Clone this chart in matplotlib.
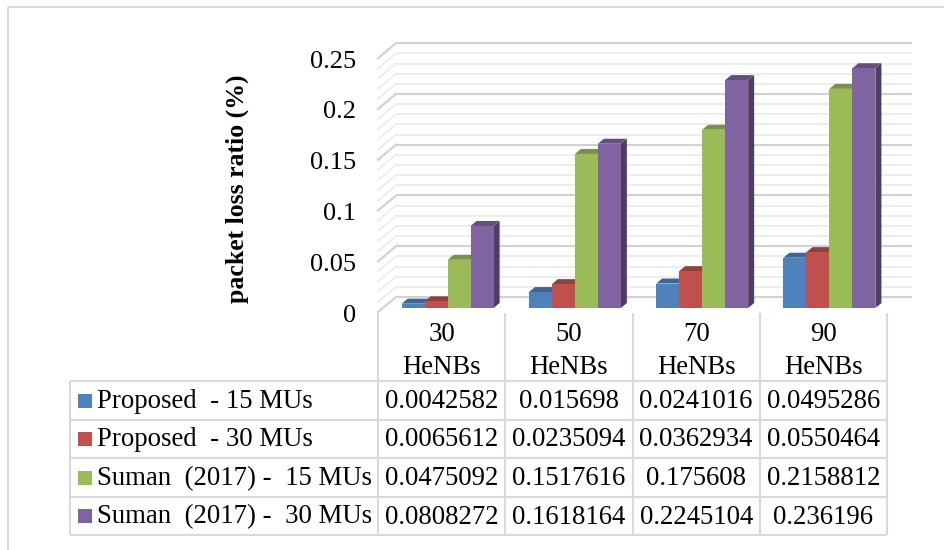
import matplotlib
matplotlib.use("Agg")
import matplotlib.pyplot as plt
import matplotlib.transforms as mtransforms
from matplotlib.patches import Polygon, Rectangle
import numpy as np

# ---------------- data ----------------
categories = ["30\nHeNBs", "50\nHeNBs", "70\nHeNBs", "90\nHeNBs"]
series_names = ["Proposed  - 15 MUs", "Proposed  - 30 MUs",
                "Suman  (2017) -  15 MUs", "Suman  (2017) -  30 MUs"]
proposed_15 = [0.0042582, 0.015698, 0.0241016, 0.0495286]
proposed_30 = [0.0065612, 0.0235094, 0.0362934, 0.0550464]
suman_15 = [0.0475092, 0.1517616, 0.175608, 0.2158812]
suman_30 = [0.0808272, 0.1618164, 0.2245104, 0.236196]
y_ticks = [0, 0.05, 0.1, 0.15, 0.2, 0.25]
y_tick_labels = ["0", "0.05", "0.1", "0.15", "0.2", "0.25"]
y_label = "packet loss ratio (%)"

series = [proposed_15, proposed_30, suman_15, suman_30]
colors = ["#4f81bd", "#c0504d", "#9bbb59", "#8064a2"]

FONT = ["Liberation Serif", "DejaVu Serif"]
plt.rcParams["font.family"] = FONT

W, H = 944, 550
fig = plt.figure(figsize=(W / 100, H / 100), dpi=100)

# overlay axes in pixel coordinates (for frame, table, labels)
tab = fig.add_axes([0, 0, 1, 1])
tab.set_xlim(0, W)
tab.set_ylim(H, 0)
tab.axis("off")

# main plotting axes
L, R, B, T = 378, 912, 308, 40
ax = fig.add_axes([L / W, 1 - B / H, (R - L) / W, (B - T) / H])
xr = (-0.5, 3.696)
yr = (0, 0.264)
ax.set_xlim(*xr)
ax.set_ylim(*yr)
ax.patch.set_alpha(0)
for s in ax.spines.values():
    s.set_visible(False)
ax.set_xticks([])

px_x = (R - L) / (xr[1] - xr[0])   # pixels per x unit
px_y = (B - T) / (yr[1] - yr[0])   # pixels per y unit

def dxu(p):
    return p / px_x

def dyu(p):
    return p / px_y

# walls / gridlines (pseudo 3D)
wall_dx, wall_dy, wall_front = 18, 11, -4
minor_vals = np.round(np.arange(0, 0.2501, 0.01), 3)
for v in minor_vals:
    major = any(abs(v - t) < 1e-9 for t in y_ticks)
    col = "#d2d2d2" if major else "#ececec"
    lw = 1.6 if major else 1.3
    yb = v + dyu(wall_dy)
    ax.plot([xr[0] + dxu(wall_dx), xr[1]], [yb, yb], color=col, lw=lw,
            solid_capstyle="butt", clip_on=False, zorder=1)
    ax.plot([xr[0], xr[0] + dxu(wall_dx)], [v + dyu(wall_front), yb],
            color=col, lw=lw, clip_on=False, zorder=1)

# y ticks
ax.set_yticks(y_ticks)
ax.set_yticklabels(y_tick_labels, fontsize=19, family=FONT)
ax.tick_params(axis="y", length=0, pad=16)
for lab in ax.get_yticklabels():
    lab.set_transform(lab.get_transform() +
                      mtransforms.ScaledTranslation(0, -5 / 100, fig.dpi_scale_trans))

# bars with pseudo-3D faces
def shade(c, f):
    rgb = np.array(matplotlib.colors.to_rgb(c))
    return tuple(np.clip(rgb * f, 0, 1))

bw = dxu(23)
shift = dxu(6)
bdx, bdy = dxu(6), dyu(5)
x = np.arange(len(categories))
for ci in range(len(categories)):
    for si, vals in enumerate(series):
        x0 = x[ci] + shift + (si - 2) * bw
        x1 = x0 + bw
        h = vals[ci]
        c = colors[si]
        side = Polygon([(x1, 0), (x1 + bdx, bdy), (x1 + bdx, h + bdy), (x1, h)],
                       closed=True, facecolor=shade(c, 0.62), edgecolor="none",
                       zorder=3)
        ax.add_patch(side)
        top = Polygon([(x0, h), (x1, h), (x1 + bdx, h + bdy), (x0 + bdx, h + bdy)],
                      closed=True, facecolor=shade(c, 0.78), edgecolor="none",
                      zorder=3)
        ax.add_patch(top)
        ax.bar(x0, h, width=bw, align="edge", color=c, edgecolor="none", zorder=3)

# y label
tab.text(237, 189, y_label, rotation=90, ha="center", va="center",
         fontsize=18.5, fontweight="bold", family=FONT)

# outer frame
tab.add_patch(Rectangle((8, 7), 960, 600, fill=False, edgecolor="#d9d9d9", lw=1.5))

# ---------------- data table ----------------
blend = mtransforms.blended_transform_factory(ax.transData, tab.transData)
bounds = [-0.5, 0.5, 1.5, 2.5, 3.5]
rows = [381, 420, 458, 497, 535]
tab_left = 70
grid_col = "#d9d9d9"
lw_t = 1.5
# vertical lines at category boundaries
for b in bounds:
    tab.plot([b, b], [313, rows[-1]], color=grid_col, lw=lw_t, transform=blend,
             solid_capstyle="butt")
tab.plot([tab_left, tab_left], [rows[0], rows[-1]], color=grid_col, lw=lw_t,
         solid_capstyle="butt")
# horizontal lines
x_end = ax.transData.transform((bounds[-1], 0))[0]
for r in rows:
    tab.plot([tab_left, x_end], [r, r], color=grid_col, lw=lw_t,
             solid_capstyle="butt")

FS_T = 19.3
# headers
for ci, cat in enumerate(categories):
    tab.text(ci, 351, cat, transform=blend, ha="center", va="center",
             fontsize=FS_T, linespacing=1.38, family=FONT)

# rows
for si, (name, vals) in enumerate(zip(series_names, series)):
    yc = (rows[si] + rows[si + 1]) / 2
    tab.add_patch(Rectangle((78, yc - 7), 14, 14, facecolor=colors[si],
                            edgecolor="none"))
    tab.text(97, yc + 1, name, ha="left", va="center", fontsize=FS_T, family=FONT)
    for ci, v in enumerate(vals):
        tab.text(ci, yc + 1, repr(v), transform=blend, ha="center", va="center",
                 fontsize=FS_T, family=FONT)

fig.savefig("out.png", dpi=100)
